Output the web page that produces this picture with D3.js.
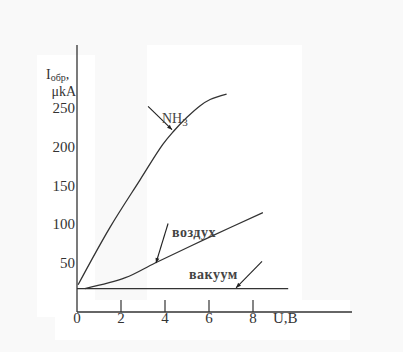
<!DOCTYPE html>
<html lang="ru">
<head>
  <meta charset="UTF-8">
  <title>I-U</title>
  <script src="https://d3js.org/d3.v7.min.js"></script>
  <style>
    html, body { margin: 0; padding: 0; background: #f9f9f9; }
    svg { display: block; }
  </style>
</head>
<body>
<script>
  // данные
  const xTicks = [2, 4, 6, 8];
  const yTicks = [50, 100, 150, 200, 250];

  const nh3U = [0.05, 1.5, 2.86, 3.9, 4.36, 5.0, 5.6, 6.05, 6.8];
  const nh3I = [22, 96, 157, 203, 219, 238, 253, 261, 268];

  const airU = [0.36, 2.2, 3.55, 6.0, 8.45];
  const airI = [17, 31, 50, 83, 115];

  const vacU = [0, 9.6];
  const vacI = [17, 17];

  // подписи со стрелками
  const labels = [
    { text: 'NH', sub: '3', u: 3.86, i: 231, from: [3.23, 252], to: [4.32, 222] },
    { text: 'воздух', u: 4.32, i: 83, from: [4.14, 101], to: [3.59, 50] },
    { text: 'вакуум', u: 5.09, i: 30, from: [8.41, 52], to: [7.23, 18] }
  ];

  const width = 403, height = 352;
  const axisX = 77, axisY = 312;
  const serif = "'Liberation Serif', 'Times New Roman', 'DejaVu Serif', serif";

  const svg = d3.select('body').append('svg')
    .attr('width', width).attr('height', height)
    .attr('font-family', serif);

  // светлые подложки как на скане
  const patches = [[37, 55, 58, 262], [147, 45, 155, 255], [55, 300, 295, 40], [37, 300, 20, 17]];
  svg.append('g').selectAll('rect').data(patches).join('rect')
    .attr('x', d => d[0]).attr('y', d => d[1]).attr('width', d => d[2]).attr('height', d => d[3])
    .attr('fill', '#fff');

  const defs = svg.append('defs');
  defs.append('marker').attr('id', 'arr')
    .attr('viewBox', '0 0 10 10').attr('refX', 10).attr('refY', 5)
    .attr('markerWidth', 7).attr('markerHeight', 5).attr('orient', 'auto')
    .attr('markerUnits', 'userSpaceOnUse')
    .append('path').attr('d', 'M0,1L10,5L0,9Z').attr('fill', '#222');

  const x = d3.scaleLinear().domain([0, 8]).range([axisX, 253]);
  const y = d3.scaleLinear().domain([0, 250]).range([301.75, 108]);

  // оси
  svg.append('line').attr('x1', axisX).attr('x2', axisX).attr('y1', 45).attr('y2', axisY)
    .attr('stroke', '#333').attr('stroke-width', 1.3);
  svg.append('line').attr('x1', axisX).attr('x2', 352).attr('y1', axisY).attr('y2', axisY)
    .attr('stroke', '#333').attr('stroke-width', 1.3);

  const xAxis = svg.append('g');
  xAxis.selectAll('line').data(xTicks).join('line')
    .attr('x1', d => x(d)).attr('x2', d => x(d)).attr('y1', axisY - 12).attr('y2', axisY)
    .attr('stroke', '#333').attr('stroke-width', 1.2);
  xAxis.selectAll('text').data([0].concat(xTicks)).join('text')
    .attr('x', d => x(d)).attr('y', 323)
    .attr('text-anchor', 'middle').attr('font-size', 15).attr('fill', '#333')
    .text(d => d);
  svg.append('text').attr('x', 273).attr('y', 323).attr('font-size', 15).attr('fill', '#333').text('U,B');

  svg.append('g').selectAll('text').data(yTicks).join('text')
    .attr('x', axisX - 2).attr('y', d => y(d) + 5)
    .attr('text-anchor', 'end').attr('font-size', 15).attr('fill', '#333')
    .text(d => d);

  const yl = svg.append('text').attr('x', 46).attr('y', 79).attr('font-size', 14).attr('fill', '#333');
  yl.append('tspan').text('I');
  yl.append('tspan').attr('dy', 2).attr('font-size', 10).text('обр');
  yl.append('tspan').attr('dy', -2).text(',');
  svg.append('text').attr('x', axisX - 1).attr('y', 96).attr('text-anchor', 'end')
    .attr('font-size', 14).attr('fill', '#333').text('μkA');

  // кривые
  const line = d3.line().x(d => x(d[0])).y(d => y(d[1])).curve(d3.curveCatmullRom.alpha(0.5));
  const series = [d3.zip(nh3U, nh3I), d3.zip(airU, airI), d3.zip(vacU, vacI)];
  svg.append('g').selectAll('path').data(series).join('path')
    .attr('d', line).attr('fill', 'none')
    .attr('stroke', '#333').attr('stroke-width', 1.3);

  // подписи и стрелки
  svg.append('g').selectAll('line').data(labels).join('line')
    .attr('x1', d => x(d.from[0])).attr('y1', d => y(d.from[1]))
    .attr('x2', d => x(d.to[0])).attr('y2', d => y(d.to[1]))
    .attr('stroke', '#222').attr('stroke-width', 1.1)
    .attr('marker-end', 'url(#arr)');

  labels.forEach(d => {
    const t = svg.append('text').attr('x', x(d.u)).attr('y', y(d.i))
      .attr('font-size', 14).attr('letter-spacing', d.sub ? 0 : 0.5)
      .attr('font-weight', d.sub ? 'normal' : 'bold').attr('fill', '#444');
    t.append('tspan').text(d.text);
    if (d.sub) t.append('tspan').attr('dy', 3).attr('font-size', 11).text(d.sub);
  });
</script>
</body>
</html>
